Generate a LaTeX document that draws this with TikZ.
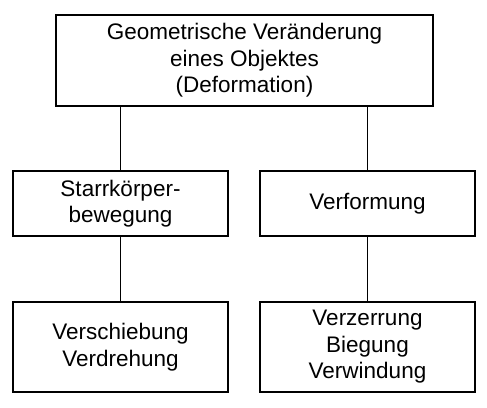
\documentclass[tikz,border=0pt]{standalone}
\usepackage{fontspec}
\setmainfont{Liberation Sans}
\begin{document}
\begin{tikzpicture}[x=1pt,y=-1pt,
  box/.style={draw,line width=1.8pt,align=center,inner sep=2pt,
    font=\fontsize{22.5}{26.5}\selectfont},
  link/.style={line width=0.9pt}]
\useasboundingbox (0,0) rectangle (487,407);
\node[box,minimum width=377pt,minimum height=91pt] (top) at (244.5,60.5)
  {Geometrische Veränderung\\eines Objektes\\(Deformation)};
\node[box,minimum width=215pt,minimum height=65pt] (lm) at (120.5,203.5)
  {Starrkörper-\\bewegung};
\node[box,minimum width=215pt,minimum height=65pt] (rm) at (367.5,203.5)
  {Verformung};
\node[box,minimum width=215pt,minimum height=90pt] (lb) at (120.5,347)
  {Verschiebung\\Verdrehung};
\node[box,minimum width=215pt,minimum height=90pt] (rb) at (367.5,347)
  {Verzerrung\\Biegung\\Verwindung};
\draw[link] (top.south -| lm.north) -- (lm.north);
\draw[link] (top.south -| rm.north) -- (rm.north);
\draw[link] (lm.south) -- (lb.north);
\draw[link] (rm.south) -- (rb.north);
\end{tikzpicture}
\end{document}
